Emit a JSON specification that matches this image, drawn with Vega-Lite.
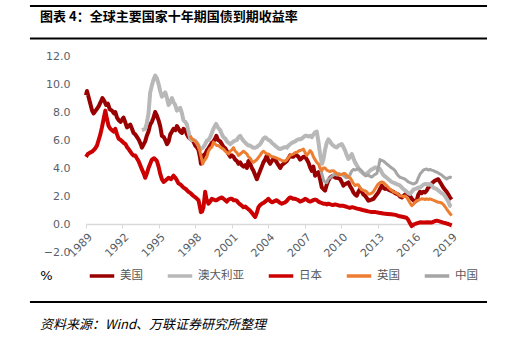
{
"$schema": "https://vega.github.io/schema/vega-lite/v6.json",
"width": 366, "height": 196,
"autosize": {"type": "none"},
"padding": {"left": 86, "top": 56, "right": 68, "bottom": 99},
"background": "white",
"config": {"view": {"stroke": null}, "font": "Noto Sans CJK SC"},
"resolve": {"axis": {"x": "independent", "y": "independent"}},
"datasets": {"rates": [
{"c":"美国","t":1989.0,"v":9.2},{"c":"美国","t":1989.08,"v":9.5},{"c":"美国","t":1989.2,"v":9.1},{"c":"美国","t":1989.35,"v":8.6},{"c":"美国","t":1989.5,"v":8.1},{"c":"美国","t":1989.62,"v":7.9},{"c":"美国","t":1989.8,"v":8.1},{"c":"美国","t":1990.04,"v":8.4},{"c":"美国","t":1990.2,"v":8.7},{"c":"美国","t":1990.35,"v":9.0},{"c":"美国","t":1990.5,"v":8.8},{"c":"美国","t":1990.65,"v":8.5},{"c":"美国","t":1990.8,"v":8.6},{"c":"美国","t":1990.95,"v":8.2},{"c":"美国","t":1991.14,"v":8.1},{"c":"美国","t":1991.3,"v":7.9},{"c":"美国","t":1991.41,"v":8.0},{"c":"美国","t":1991.55,"v":7.6},{"c":"美国","t":1991.7,"v":7.4},{"c":"美国","t":1991.85,"v":7.3},{"c":"美国","t":1992.0,"v":7.5},{"c":"美国","t":1992.09,"v":7.6},{"c":"美国","t":1992.25,"v":7.2},{"c":"美国","t":1992.37,"v":6.9},{"c":"美国","t":1992.5,"v":7.0},{"c":"美国","t":1992.64,"v":7.1},{"c":"美国","t":1992.78,"v":6.8},{"c":"美国","t":1992.91,"v":6.5},{"c":"美国","t":1993.05,"v":6.4},{"c":"美国","t":1993.2,"v":6.2},{"c":"美国","t":1993.35,"v":6.0},{"c":"美国","t":1993.5,"v":5.7},{"c":"美国","t":1993.6,"v":5.45},{"c":"美国","t":1993.75,"v":5.7},{"c":"美国","t":1993.87,"v":5.9},{"c":"美国","t":1994.0,"v":6.3},{"c":"美国","t":1994.14,"v":6.6},{"c":"美国","t":1994.28,"v":7.1},{"c":"美国","t":1994.42,"v":7.3},{"c":"美国","t":1994.55,"v":7.6},{"c":"美国","t":1994.69,"v":8.0},{"c":"美国","t":1994.8,"v":7.8},{"c":"美国","t":1994.97,"v":7.4},{"c":"美国","t":1995.1,"v":7.0},{"c":"美国","t":1995.24,"v":6.3},{"c":"美国","t":1995.4,"v":6.2},{"c":"美国","t":1995.52,"v":6.0},{"c":"美国","t":1995.66,"v":5.7},{"c":"美国","t":1995.8,"v":5.9},{"c":"美国","t":1995.93,"v":6.4},{"c":"美国","t":1996.07,"v":6.6},{"c":"美国","t":1996.2,"v":6.8},{"c":"美国","t":1996.35,"v":6.7},{"c":"美国","t":1996.48,"v":7.0},{"c":"美国","t":1996.61,"v":6.8},{"c":"美国","t":1996.75,"v":6.6},{"c":"美国","t":1996.89,"v":6.5},{"c":"美国","t":1997.02,"v":6.8},{"c":"美国","t":1997.16,"v":6.7},{"c":"美国","t":1997.3,"v":6.4},{"c":"美国","t":1997.43,"v":6.2},{"c":"美国","t":1997.57,"v":6.1},{"c":"美国","t":1997.7,"v":6.0},{"c":"美国","t":1997.84,"v":5.9},{"c":"美国","t":1997.98,"v":5.6},{"c":"美国","t":1998.1,"v":5.5},{"c":"美国","t":1998.25,"v":5.3},{"c":"美国","t":1998.39,"v":4.7},{"c":"美国","t":1998.45,"v":4.3},{"c":"美国","t":1998.55,"v":4.6},{"c":"美国","t":1998.66,"v":4.9},{"c":"美国","t":1998.8,"v":5.0},{"c":"美国","t":1998.94,"v":5.25},{"c":"美国","t":1999.07,"v":5.4},{"c":"美国","t":1999.21,"v":5.6},{"c":"美国","t":1999.35,"v":5.8},{"c":"美国","t":1999.48,"v":5.9},{"c":"美国","t":1999.62,"v":6.1},{"c":"美国","t":1999.72,"v":6.3},{"c":"美国","t":1999.85,"v":6.0},{"c":"美国","t":2000.04,"v":5.9},{"c":"美国","t":2000.18,"v":5.7},{"c":"美国","t":2000.31,"v":5.5},{"c":"美国","t":2000.45,"v":5.4},{"c":"美国","t":2000.59,"v":5.2},{"c":"美国","t":2000.72,"v":5.0},{"c":"美国","t":2000.86,"v":4.8},{"c":"美国","t":2001.0,"v":4.9},{"c":"美国","t":2001.13,"v":4.8},{"c":"美国","t":2001.27,"v":4.6},{"c":"美国","t":2001.41,"v":4.5},{"c":"美国","t":2001.54,"v":4.3},{"c":"美国","t":2001.68,"v":4.4},{"c":"美国","t":2001.82,"v":4.2},{"c":"美国","t":2001.95,"v":4.1},{"c":"美国","t":2002.1,"v":4.2},{"c":"美国","t":2002.23,"v":4.0},{"c":"美国","t":2002.36,"v":4.5},{"c":"美国","t":2002.5,"v":4.3},{"c":"美国","t":2002.64,"v":4.0},{"c":"美国","t":2002.77,"v":3.8},{"c":"美国","t":2002.91,"v":3.5},{"c":"美国","t":2003.05,"v":3.2},{"c":"美国","t":2003.18,"v":3.5},{"c":"美国","t":2003.32,"v":3.8},{"c":"美国","t":2003.46,"v":4.1},{"c":"美国","t":2003.59,"v":4.4},{"c":"美国","t":2003.73,"v":4.6},{"c":"美国","t":2003.87,"v":4.9},{"c":"美国","t":2004.0,"v":4.5},{"c":"美国","t":2004.14,"v":4.3},{"c":"美国","t":2004.28,"v":4.5},{"c":"美国","t":2004.42,"v":4.7},{"c":"美国","t":2004.55,"v":4.6},{"c":"美国","t":2004.69,"v":4.4},{"c":"美国","t":2004.83,"v":4.2},{"c":"美国","t":2004.97,"v":4.0},{"c":"美国","t":2005.1,"v":4.2},{"c":"美国","t":2005.24,"v":4.3},{"c":"美国","t":2005.38,"v":4.4},{"c":"美国","t":2005.52,"v":4.5},{"c":"美国","t":2005.65,"v":4.7},{"c":"美国","t":2005.79,"v":4.9},{"c":"美国","t":2005.93,"v":4.8},{"c":"美国","t":2006.06,"v":4.8},{"c":"美国","t":2006.2,"v":5.0},{"c":"美国","t":2006.34,"v":4.9},{"c":"美国","t":2006.47,"v":4.8},{"c":"美国","t":2006.61,"v":4.6},{"c":"美国","t":2006.75,"v":4.7},{"c":"美国","t":2006.88,"v":4.8},{"c":"美国","t":2007.02,"v":4.8},{"c":"美国","t":2007.16,"v":4.6},{"c":"美国","t":2007.29,"v":4.4},{"c":"美国","t":2007.43,"v":4.05},{"c":"美国","t":2007.57,"v":3.8},{"c":"美国","t":2007.7,"v":4.1},{"c":"美国","t":2007.84,"v":3.45},{"c":"美国","t":2007.98,"v":3.6},{"c":"美国","t":2008.11,"v":3.7},{"c":"美国","t":2008.25,"v":3.2},{"c":"美国","t":2008.39,"v":2.62},{"c":"美国","t":2008.52,"v":2.5},{"c":"美国","t":2008.66,"v":2.38},{"c":"美国","t":2008.8,"v":2.8},{"c":"美国","t":2008.93,"v":3.1},{"c":"美国","t":2009.07,"v":3.3},{"c":"美国","t":2009.21,"v":3.4},{"c":"美国","t":2009.35,"v":3.45},{"c":"美国","t":2009.5,"v":3.3},{"c":"美国","t":2009.65,"v":3.3},{"c":"美国","t":2009.8,"v":3.25},{"c":"美国","t":2009.9,"v":3.21},{"c":"美国","t":2010.03,"v":3.0},{"c":"美国","t":2010.17,"v":2.74},{"c":"美国","t":2010.31,"v":2.85},{"c":"美国","t":2010.45,"v":2.9},{"c":"美国","t":2010.58,"v":2.97},{"c":"美国","t":2010.72,"v":2.7},{"c":"美国","t":2010.86,"v":2.5},{"c":"美国","t":2010.99,"v":2.26},{"c":"美国","t":2011.13,"v":2.1},{"c":"美国","t":2011.27,"v":2.02},{"c":"美国","t":2011.4,"v":2.3},{"c":"美国","t":2011.54,"v":2.5},{"c":"美国","t":2011.68,"v":2.3},{"c":"美国","t":2011.82,"v":2.1},{"c":"美国","t":2011.95,"v":2.02},{"c":"美国","t":2012.09,"v":1.85},{"c":"美国","t":2012.22,"v":1.67},{"c":"美国","t":2012.36,"v":1.7},{"c":"美国","t":2012.5,"v":1.75},{"c":"美国","t":2012.63,"v":1.79},{"c":"美国","t":2012.77,"v":1.95},{"c":"美国","t":2012.91,"v":2.1},{"c":"美国","t":2013.04,"v":2.26},{"c":"美国","t":2013.18,"v":2.5},{"c":"美国","t":2013.32,"v":2.74},{"c":"美国","t":2013.45,"v":2.6},{"c":"美国","t":2013.59,"v":2.5},{"c":"美国","t":2013.73,"v":2.55},{"c":"美国","t":2013.87,"v":2.45},{"c":"美国","t":2014.0,"v":2.4},{"c":"美国","t":2014.14,"v":2.35},{"c":"美国","t":2014.28,"v":2.3},{"c":"美国","t":2014.42,"v":2.2},{"c":"美国","t":2014.55,"v":2.15},{"c":"美国","t":2014.69,"v":2.1},{"c":"美国","t":2014.83,"v":1.95},{"c":"美国","t":2014.97,"v":1.9},{"c":"美国","t":2015.1,"v":2.0},{"c":"美国","t":2015.24,"v":2.1},{"c":"美国","t":2015.38,"v":2.2},{"c":"美国","t":2015.52,"v":2.1},{"c":"美国","t":2015.65,"v":2.0},{"c":"美国","t":2015.79,"v":1.8},{"c":"美国","t":2015.92,"v":1.7},{"c":"美国","t":2016.06,"v":1.6},{"c":"美国","t":2016.2,"v":1.7},{"c":"美国","t":2016.33,"v":2.1},{"c":"美国","t":2016.47,"v":2.3},{"c":"美国","t":2016.6,"v":2.2},{"c":"美国","t":2016.74,"v":2.3},{"c":"美国","t":2016.88,"v":2.25},{"c":"美国","t":2017.02,"v":2.4},{"c":"美国","t":2017.15,"v":2.6},{"c":"美国","t":2017.29,"v":2.7},{"c":"美国","t":2017.43,"v":2.9},{"c":"美国","t":2017.56,"v":3.0},{"c":"美国","t":2017.7,"v":3.1},{"c":"美国","t":2017.84,"v":3.15},{"c":"美国","t":2017.97,"v":3.2},{"c":"美国","t":2018.11,"v":3.0},{"c":"美国","t":2018.25,"v":2.8},{"c":"美国","t":2018.38,"v":2.6},{"c":"美国","t":2018.52,"v":2.45},{"c":"美国","t":2018.66,"v":2.3},{"c":"美国","t":2018.8,"v":2.1},{"c":"美国","t":2018.93,"v":1.9},{"c":"美国","t":2019.07,"v":1.75},
{"c":"澳大利亚","t":1993.6,"v":6.7},{"c":"澳大利亚","t":1993.75,"v":6.75},{"c":"澳大利亚","t":1993.87,"v":6.8},{"c":"澳大利亚","t":1994.0,"v":7.2},{"c":"澳大利亚","t":1994.14,"v":7.9},{"c":"澳大利亚","t":1994.28,"v":9.4},{"c":"澳大利亚","t":1994.42,"v":9.9},{"c":"澳大利亚","t":1994.55,"v":10.3},{"c":"澳大利亚","t":1994.69,"v":10.6},{"c":"澳大利亚","t":1994.83,"v":10.4},{"c":"澳大利亚","t":1994.97,"v":10.0},{"c":"澳大利亚","t":1995.1,"v":9.5},{"c":"澳大利亚","t":1995.24,"v":9.1},{"c":"澳大利亚","t":1995.38,"v":9.2},{"c":"澳大利亚","t":1995.52,"v":9.4},{"c":"澳大利亚","t":1995.66,"v":9.0},{"c":"澳大利亚","t":1995.79,"v":8.5},{"c":"澳大利亚","t":1995.93,"v":8.7},{"c":"澳大利亚","t":1996.07,"v":9.0},{"c":"澳大利亚","t":1996.2,"v":8.7},{"c":"澳大利亚","t":1996.34,"v":8.5},{"c":"澳大利亚","t":1996.48,"v":8.1},{"c":"澳大利亚","t":1996.61,"v":8.2},{"c":"澳大利亚","t":1996.75,"v":8.3},{"c":"澳大利亚","t":1996.89,"v":7.9},{"c":"澳大利亚","t":1997.02,"v":7.4},{"c":"澳大利亚","t":1997.16,"v":7.3},{"c":"澳大利亚","t":1997.3,"v":7.1},{"c":"澳大利亚","t":1997.43,"v":6.6},{"c":"澳大利亚","t":1997.57,"v":6.1},{"c":"澳大利亚","t":1997.7,"v":6.0},{"c":"澳大利亚","t":1997.84,"v":6.0},{"c":"澳大利亚","t":1997.98,"v":5.95},{"c":"澳大利亚","t":1998.12,"v":5.8},{"c":"澳大利亚","t":1998.25,"v":5.6},{"c":"澳大利亚","t":1998.39,"v":5.3},{"c":"澳大利亚","t":1998.52,"v":5.4},{"c":"澳大利亚","t":1998.66,"v":5.5},{"c":"澳大利亚","t":1998.8,"v":5.7},{"c":"澳大利亚","t":1998.94,"v":5.95},{"c":"澳大利亚","t":1999.07,"v":6.0},{"c":"澳大利亚","t":1999.21,"v":6.2},{"c":"澳大利亚","t":1999.35,"v":6.5},{"c":"澳大利亚","t":1999.48,"v":6.8},{"c":"澳大利亚","t":1999.6,"v":7.0},{"c":"澳大利亚","t":1999.7,"v":7.15},{"c":"澳大利亚","t":1999.85,"v":6.9},{"c":"澳大利亚","t":2000.04,"v":6.7},{"c":"澳大利亚","t":2000.18,"v":6.4},{"c":"澳大利亚","t":2000.31,"v":6.2},{"c":"澳大利亚","t":2000.45,"v":6.1},{"c":"澳大利亚","t":2000.59,"v":5.9},{"c":"澳大利亚","t":2000.72,"v":5.8},{"c":"澳大利亚","t":2000.86,"v":5.7},{"c":"澳大利亚","t":2001.0,"v":5.8},{"c":"澳大利亚","t":2001.13,"v":5.9},{"c":"澳大利亚","t":2001.27,"v":5.95},{"c":"澳大利亚","t":2001.41,"v":6.0},{"c":"澳大利亚","t":2001.54,"v":6.2},{"c":"澳大利亚","t":2001.68,"v":6.3},{"c":"澳大利亚","t":2001.82,"v":6.1},{"c":"澳大利亚","t":2001.95,"v":5.95},{"c":"澳大利亚","t":2002.1,"v":5.8},{"c":"澳大利亚","t":2002.23,"v":5.7},{"c":"澳大利亚","t":2002.36,"v":5.6},{"c":"澳大利亚","t":2002.5,"v":5.6},{"c":"澳大利亚","t":2002.64,"v":5.5},{"c":"澳大利亚","t":2002.77,"v":5.45},{"c":"澳大利亚","t":2002.91,"v":5.45},{"c":"澳大利亚","t":2003.05,"v":5.5},{"c":"澳大利亚","t":2003.18,"v":5.6},{"c":"澳大利亚","t":2003.32,"v":5.7},{"c":"澳大利亚","t":2003.46,"v":5.9},{"c":"澳大利亚","t":2003.59,"v":6.1},{"c":"澳大利亚","t":2003.73,"v":6.2},{"c":"澳大利亚","t":2003.87,"v":6.1},{"c":"澳大利亚","t":2004.0,"v":6.0},{"c":"澳大利亚","t":2004.14,"v":5.95},{"c":"澳大利亚","t":2004.28,"v":5.8},{"c":"澳大利亚","t":2004.42,"v":5.7},{"c":"澳大利亚","t":2004.55,"v":5.6},{"c":"澳大利亚","t":2004.69,"v":5.5},{"c":"澳大利亚","t":2004.83,"v":5.4},{"c":"澳大利亚","t":2004.97,"v":5.35},{"c":"澳大利亚","t":2005.1,"v":5.4},{"c":"澳大利亚","t":2005.24,"v":5.45},{"c":"澳大利亚","t":2005.38,"v":5.5},{"c":"澳大利亚","t":2005.52,"v":5.45},{"c":"澳大利亚","t":2005.65,"v":5.6},{"c":"澳大利亚","t":2005.79,"v":5.7},{"c":"澳大利亚","t":2005.93,"v":5.8},{"c":"澳大利亚","t":2006.06,"v":5.85},{"c":"澳大利亚","t":2006.2,"v":5.9},{"c":"澳大利亚","t":2006.34,"v":6.0},{"c":"澳大利亚","t":2006.47,"v":6.05},{"c":"澳大利亚","t":2006.61,"v":6.05},{"c":"澳大利亚","t":2006.75,"v":6.1},{"c":"澳大利亚","t":2006.88,"v":6.2},{"c":"澳大利亚","t":2007.02,"v":6.3},{"c":"澳大利亚","t":2007.16,"v":6.3},{"c":"澳大利亚","t":2007.29,"v":6.25},{"c":"澳大利亚","t":2007.43,"v":6.3},{"c":"澳大利亚","t":2007.57,"v":6.2},{"c":"澳大利亚","t":2007.7,"v":6.4},{"c":"澳大利亚","t":2007.84,"v":6.55},{"c":"澳大利亚","t":2007.98,"v":6.6},{"c":"澳大利亚","t":2008.11,"v":5.9},{"c":"澳大利亚","t":2008.25,"v":5.0},{"c":"澳大利亚","t":2008.4,"v":4.3},{"c":"澳大利亚","t":2008.52,"v":4.6},{"c":"澳大利亚","t":2008.66,"v":5.3},{"c":"澳大利亚","t":2008.8,"v":5.8},{"c":"澳大利亚","t":2008.93,"v":6.05},{"c":"澳大利亚","t":2009.07,"v":5.9},{"c":"澳大利亚","t":2009.21,"v":5.7},{"c":"澳大利亚","t":2009.35,"v":5.6},{"c":"澳大利亚","t":2009.5,"v":5.5},{"c":"澳大利亚","t":2009.62,"v":5.47},{"c":"澳大利亚","t":2009.76,"v":5.6},{"c":"澳大利亚","t":2009.9,"v":5.65},{"c":"澳大利亚","t":2010.03,"v":5.71},{"c":"澳大利亚","t":2010.17,"v":5.5},{"c":"澳大利亚","t":2010.31,"v":5.24},{"c":"澳大利亚","t":2010.45,"v":4.9},{"c":"澳大利亚","t":2010.58,"v":4.64},{"c":"澳大利亚","t":2010.72,"v":4.8},{"c":"澳大利亚","t":2010.86,"v":5.0},{"c":"澳大利亚","t":2010.99,"v":4.7},{"c":"澳大利亚","t":2011.13,"v":4.4},{"c":"澳大利亚","t":2011.27,"v":4.2},{"c":"澳大利亚","t":2011.4,"v":4.0},{"c":"澳大利亚","t":2011.54,"v":3.81},{"c":"澳大利亚","t":2011.68,"v":3.7},{"c":"澳大利亚","t":2011.82,"v":3.6},{"c":"澳大利亚","t":2011.95,"v":3.57},{"c":"澳大利亚","t":2012.09,"v":3.6},{"c":"澳大利亚","t":2012.22,"v":3.7},{"c":"澳大利亚","t":2012.36,"v":3.81},{"c":"澳大利亚","t":2012.5,"v":3.9},{"c":"澳大利亚","t":2012.63,"v":3.95},{"c":"澳大利亚","t":2012.77,"v":4.04},{"c":"澳大利亚","t":2012.91,"v":4.0},{"c":"澳大利亚","t":2013.04,"v":3.95},{"c":"澳大利亚","t":2013.18,"v":3.93},{"c":"澳大利亚","t":2013.32,"v":3.7},{"c":"澳大利亚","t":2013.45,"v":3.5},{"c":"澳大利亚","t":2013.59,"v":3.4},{"c":"澳大利亚","t":2013.73,"v":3.3},{"c":"澳大利亚","t":2013.87,"v":3.2},{"c":"澳大利亚","t":2014.0,"v":3.1},{"c":"澳大利亚","t":2014.14,"v":3.0},{"c":"澳大利亚","t":2014.28,"v":2.95},{"c":"澳大利亚","t":2014.42,"v":2.9},{"c":"澳大利亚","t":2014.55,"v":2.85},{"c":"澳大利亚","t":2014.69,"v":2.8},{"c":"澳大利亚","t":2014.83,"v":2.74},{"c":"澳大利亚","t":2014.97,"v":2.6},{"c":"澳大利亚","t":2015.1,"v":2.5},{"c":"澳大利亚","t":2015.24,"v":2.4},{"c":"澳大利亚","t":2015.38,"v":2.3},{"c":"澳大利亚","t":2015.52,"v":2.2},{"c":"澳大利亚","t":2015.65,"v":2.14},{"c":"澳大利亚","t":2015.79,"v":2.3},{"c":"澳大利亚","t":2015.92,"v":2.45},{"c":"澳大利亚","t":2016.06,"v":2.5},{"c":"澳大利亚","t":2016.2,"v":2.55},{"c":"澳大利亚","t":2016.33,"v":2.6},{"c":"澳大利亚","t":2016.47,"v":2.6},{"c":"澳大利亚","t":2016.6,"v":2.7},{"c":"澳大利亚","t":2016.74,"v":2.8},{"c":"澳大利亚","t":2016.88,"v":2.86},{"c":"澳大利亚","t":2017.02,"v":2.86},{"c":"澳大利亚","t":2017.15,"v":2.8},{"c":"澳大利亚","t":2017.29,"v":2.86},{"c":"澳大利亚","t":2017.43,"v":2.75},{"c":"澳大利亚","t":2017.56,"v":2.6},{"c":"澳大利亚","t":2017.7,"v":2.55},{"c":"澳大利亚","t":2017.84,"v":2.5},{"c":"澳大利亚","t":2017.97,"v":2.4},{"c":"澳大利亚","t":2018.11,"v":2.3},{"c":"澳大利亚","t":2018.25,"v":2.2},{"c":"澳大利亚","t":2018.38,"v":2.14},{"c":"澳大利亚","t":2018.52,"v":2.0},{"c":"澳大利亚","t":2018.66,"v":1.8},{"c":"澳大利亚","t":2018.8,"v":1.6},{"c":"澳大利亚","t":2018.93,"v":1.31},{"c":"澳大利亚","t":2019.07,"v":1.25},
{"c":"日本","t":1989.0,"v":4.8},{"c":"日本","t":1989.15,"v":5.0},{"c":"日本","t":1989.35,"v":5.1},{"c":"日本","t":1989.55,"v":5.2},{"c":"日本","t":1989.76,"v":5.4},{"c":"日本","t":1989.9,"v":5.6},{"c":"日本","t":1990.04,"v":6.0},{"c":"日本","t":1990.18,"v":6.4},{"c":"日本","t":1990.31,"v":6.9},{"c":"日本","t":1990.45,"v":7.5},{"c":"日本","t":1990.59,"v":8.1},{"c":"日本","t":1990.72,"v":7.5},{"c":"日本","t":1990.86,"v":7.0},{"c":"日本","t":1991.0,"v":6.8},{"c":"日本","t":1991.14,"v":6.7},{"c":"日本","t":1991.27,"v":6.6},{"c":"日本","t":1991.41,"v":6.8},{"c":"日本","t":1991.55,"v":6.4},{"c":"日本","t":1991.68,"v":6.1},{"c":"日本","t":1991.85,"v":6.0},{"c":"日本","t":1992.09,"v":5.8},{"c":"日本","t":1992.25,"v":5.7},{"c":"日本","t":1992.37,"v":5.5},{"c":"日本","t":1992.55,"v":5.3},{"c":"日本","t":1992.78,"v":5.0},{"c":"日本","t":1992.91,"v":4.9},{"c":"日本","t":1993.05,"v":4.9},{"c":"日本","t":1993.18,"v":4.7},{"c":"日本","t":1993.32,"v":4.5},{"c":"日本","t":1993.46,"v":4.2},{"c":"日本","t":1993.6,"v":3.9},{"c":"日本","t":1993.75,"v":3.6},{"c":"日本","t":1993.87,"v":3.3},{"c":"日本","t":1994.0,"v":3.6},{"c":"日本","t":1994.14,"v":4.0},{"c":"日本","t":1994.28,"v":4.3},{"c":"日本","t":1994.42,"v":4.6},{"c":"日本","t":1994.6,"v":4.7},{"c":"日本","t":1994.83,"v":4.5},{"c":"日本","t":1994.97,"v":4.1},{"c":"日本","t":1995.1,"v":3.6},{"c":"日本","t":1995.24,"v":3.2},{"c":"日本","t":1995.38,"v":3.0},{"c":"日本","t":1995.52,"v":3.1},{"c":"日本","t":1995.66,"v":3.2},{"c":"日本","t":1995.79,"v":3.3},{"c":"日本","t":1996.0,"v":3.2},{"c":"日本","t":1996.2,"v":3.45},{"c":"日本","t":1996.35,"v":3.3},{"c":"日本","t":1996.48,"v":3.1},{"c":"日本","t":1996.61,"v":2.9},{"c":"日本","t":1996.8,"v":2.8},{"c":"日本","t":1997.02,"v":2.6},{"c":"日本","t":1997.2,"v":2.5},{"c":"日本","t":1997.43,"v":2.3},{"c":"日本","t":1997.6,"v":2.2},{"c":"日本","t":1997.84,"v":2.0},{"c":"日本","t":1998.0,"v":1.9},{"c":"日本","t":1998.25,"v":1.7},{"c":"日本","t":1998.35,"v":1.3},{"c":"日本","t":1998.45,"v":0.85},{"c":"日本","t":1998.55,"v":0.9},{"c":"日本","t":1998.66,"v":1.2},{"c":"日本","t":1998.75,"v":1.9},{"c":"日本","t":1998.8,"v":2.3},{"c":"日本","t":1998.9,"v":1.8},{"c":"日本","t":1999.07,"v":1.45},{"c":"日本","t":1999.21,"v":1.6},{"c":"日本","t":1999.35,"v":1.8},{"c":"日本","t":1999.5,"v":1.75},{"c":"日本","t":1999.62,"v":1.7},{"c":"日本","t":1999.76,"v":1.7},{"c":"日本","t":1999.9,"v":1.8},{"c":"日本","t":2000.04,"v":1.85},{"c":"日本","t":2000.18,"v":1.9},{"c":"日本","t":2000.31,"v":1.8},{"c":"日本","t":2000.45,"v":1.7},{"c":"日本","t":2000.59,"v":1.6},{"c":"日本","t":2000.72,"v":1.75},{"c":"日本","t":2000.86,"v":1.8},{"c":"日本","t":2001.0,"v":1.8},{"c":"日本","t":2001.13,"v":1.7},{"c":"日本","t":2001.27,"v":1.7},{"c":"日本","t":2001.41,"v":1.65},{"c":"日本","t":2001.54,"v":1.5},{"c":"日本","t":2001.68,"v":1.4},{"c":"日本","t":2001.82,"v":1.3},{"c":"日本","t":2001.95,"v":1.2},{"c":"日本","t":2002.1,"v":1.25},{"c":"日本","t":2002.23,"v":1.15},{"c":"日本","t":2002.36,"v":1.05},{"c":"日本","t":2002.5,"v":0.95},{"c":"日本","t":2002.64,"v":0.8},{"c":"日本","t":2002.77,"v":0.65},{"c":"日本","t":2002.91,"v":0.5},{"c":"日本","t":2003.05,"v":0.8},{"c":"日本","t":2003.18,"v":1.2},{"c":"日本","t":2003.32,"v":1.35},{"c":"日本","t":2003.46,"v":1.45},{"c":"日本","t":2003.59,"v":1.5},{"c":"日本","t":2003.73,"v":1.6},{"c":"日本","t":2003.87,"v":1.7},{"c":"日本","t":2004.0,"v":1.8},{"c":"日本","t":2004.14,"v":1.65},{"c":"日本","t":2004.28,"v":1.55},{"c":"日本","t":2004.42,"v":1.6},{"c":"日本","t":2004.55,"v":1.65},{"c":"日本","t":2004.69,"v":1.7},{"c":"日本","t":2004.83,"v":1.6},{"c":"日本","t":2004.97,"v":1.5},{"c":"日本","t":2005.1,"v":1.45},{"c":"日本","t":2005.24,"v":1.5},{"c":"日本","t":2005.38,"v":1.55},{"c":"日本","t":2005.52,"v":1.65},{"c":"日本","t":2005.65,"v":1.8},{"c":"日本","t":2005.79,"v":1.9},{"c":"日本","t":2005.93,"v":1.85},{"c":"日本","t":2006.06,"v":1.8},{"c":"日本","t":2006.2,"v":1.8},{"c":"日本","t":2006.34,"v":1.75},{"c":"日本","t":2006.47,"v":1.7},{"c":"日本","t":2006.61,"v":1.6},{"c":"日本","t":2006.75,"v":1.65},{"c":"日本","t":2006.88,"v":1.7},{"c":"日本","t":2007.02,"v":1.8},{"c":"日本","t":2007.16,"v":1.75},{"c":"日本","t":2007.29,"v":1.65},{"c":"日本","t":2007.43,"v":1.6},{"c":"日本","t":2007.57,"v":1.65},{"c":"日本","t":2007.7,"v":1.7},{"c":"日本","t":2007.84,"v":1.75},{"c":"日本","t":2007.98,"v":1.7},{"c":"日本","t":2008.11,"v":1.6},{"c":"日本","t":2008.25,"v":1.55},{"c":"日本","t":2008.39,"v":1.5},{"c":"日本","t":2008.52,"v":1.45},{"c":"日本","t":2008.66,"v":1.45},{"c":"日本","t":2008.8,"v":1.4},{"c":"日本","t":2008.93,"v":1.45},{"c":"日本","t":2009.1,"v":1.4},{"c":"日本","t":2009.3,"v":1.35},{"c":"日本","t":2009.5,"v":1.4},{"c":"日本","t":2009.7,"v":1.35},{"c":"日本","t":2009.9,"v":1.3},{"c":"日本","t":2010.17,"v":1.3},{"c":"日本","t":2010.35,"v":1.25},{"c":"日本","t":2010.5,"v":1.2},{"c":"日本","t":2010.7,"v":1.15},{"c":"日本","t":2010.9,"v":1.2},{"c":"日本","t":2011.1,"v":1.15},{"c":"日本","t":2011.3,"v":1.1},{"c":"日本","t":2011.54,"v":1.05},{"c":"日本","t":2011.75,"v":1.0},{"c":"日本","t":2012.0,"v":0.95},{"c":"日本","t":2012.22,"v":0.9},{"c":"日本","t":2012.5,"v":0.85},{"c":"日本","t":2012.8,"v":0.85},{"c":"日本","t":2013.1,"v":0.8},{"c":"日本","t":2013.45,"v":0.75},{"c":"日本","t":2013.8,"v":0.72},{"c":"日本","t":2014.1,"v":0.7},{"c":"日本","t":2014.45,"v":0.65},{"c":"日本","t":2014.8,"v":0.55},{"c":"日本","t":2015.1,"v":0.5},{"c":"日本","t":2015.35,"v":0.45},{"c":"日本","t":2015.5,"v":0.3},{"c":"日本","t":2015.65,"v":0.05},{"c":"日本","t":2015.79,"v":-0.15},{"c":"日本","t":2015.92,"v":-0.05},{"c":"日本","t":2016.06,"v":0.0},{"c":"日本","t":2016.2,"v":0.05},{"c":"日本","t":2016.47,"v":0.12},{"c":"日本","t":2016.8,"v":0.1},{"c":"日本","t":2017.1,"v":0.12},{"c":"日本","t":2017.4,"v":0.1},{"c":"日本","t":2017.7,"v":0.2},{"c":"日本","t":2017.84,"v":0.24},{"c":"日本","t":2018.0,"v":0.2},{"c":"日本","t":2018.2,"v":0.15},{"c":"日本","t":2018.38,"v":0.1},{"c":"日本","t":2018.6,"v":0.05},{"c":"日本","t":2018.8,"v":0.0},{"c":"日本","t":2019.07,"v":-0.1},
{"c":"中国","t":2008.2,"v":4.1},{"c":"中国","t":2008.3,"v":3.9},{"c":"中国","t":2008.42,"v":3.5},{"c":"中国","t":2008.55,"v":3.1},{"c":"中国","t":2008.66,"v":3.0},{"c":"中国","t":2008.8,"v":2.95},{"c":"中国","t":2008.93,"v":3.2},{"c":"中国","t":2009.07,"v":3.3},{"c":"中国","t":2009.21,"v":3.4},{"c":"中国","t":2009.35,"v":3.5},{"c":"中国","t":2009.5,"v":3.55},{"c":"中国","t":2009.65,"v":3.5},{"c":"中国","t":2009.8,"v":3.6},{"c":"中国","t":2009.95,"v":3.55},{"c":"中国","t":2010.1,"v":3.5},{"c":"中国","t":2010.25,"v":3.4},{"c":"中国","t":2010.4,"v":3.3},{"c":"中国","t":2010.55,"v":3.35},{"c":"中国","t":2010.7,"v":3.5},{"c":"中国","t":2010.86,"v":3.8},{"c":"中国","t":2011.0,"v":3.9},{"c":"中国","t":2011.13,"v":3.85},{"c":"中国","t":2011.27,"v":3.9},{"c":"中国","t":2011.4,"v":3.95},{"c":"中国","t":2011.54,"v":3.9},{"c":"中国","t":2011.68,"v":3.8},{"c":"中国","t":2011.82,"v":3.6},{"c":"中国","t":2011.95,"v":3.45},{"c":"中国","t":2012.09,"v":3.45},{"c":"中国","t":2012.22,"v":3.5},{"c":"中国","t":2012.36,"v":3.4},{"c":"中国","t":2012.5,"v":3.35},{"c":"中国","t":2012.63,"v":3.45},{"c":"中国","t":2012.77,"v":3.55},{"c":"中国","t":2012.91,"v":3.6},{"c":"中国","t":2013.04,"v":4.0},{"c":"中国","t":2013.18,"v":4.6},{"c":"中国","t":2013.32,"v":4.55},{"c":"中国","t":2013.45,"v":4.5},{"c":"中国","t":2013.59,"v":4.4},{"c":"中国","t":2013.73,"v":4.29},{"c":"中国","t":2013.87,"v":4.2},{"c":"中国","t":2014.0,"v":4.1},{"c":"中国","t":2014.14,"v":4.0},{"c":"中国","t":2014.28,"v":3.93},{"c":"中国","t":2014.42,"v":3.8},{"c":"中国","t":2014.55,"v":3.6},{"c":"中国","t":2014.69,"v":3.45},{"c":"中国","t":2014.83,"v":3.33},{"c":"中国","t":2014.97,"v":3.3},{"c":"中国","t":2015.1,"v":3.25},{"c":"中国","t":2015.24,"v":3.2},{"c":"中国","t":2015.38,"v":3.1},{"c":"中国","t":2015.52,"v":3.0},{"c":"中国","t":2015.65,"v":2.95},{"c":"中国","t":2015.79,"v":2.9},{"c":"中国","t":2015.92,"v":2.86},{"c":"中国","t":2016.06,"v":2.9},{"c":"中国","t":2016.2,"v":3.0},{"c":"中国","t":2016.33,"v":3.3},{"c":"中国","t":2016.47,"v":3.57},{"c":"中国","t":2016.6,"v":3.7},{"c":"中国","t":2016.74,"v":3.85},{"c":"中国","t":2016.88,"v":3.9},{"c":"中国","t":2017.02,"v":3.93},{"c":"中国","t":2017.15,"v":3.85},{"c":"中国","t":2017.29,"v":3.9},{"c":"中国","t":2017.43,"v":3.85},{"c":"中国","t":2017.56,"v":3.81},{"c":"中国","t":2017.7,"v":3.75},{"c":"中国","t":2017.84,"v":3.7},{"c":"中国","t":2017.97,"v":3.65},{"c":"中国","t":2018.11,"v":3.57},{"c":"中国","t":2018.25,"v":3.5},{"c":"中国","t":2018.38,"v":3.4},{"c":"中国","t":2018.52,"v":3.3},{"c":"中国","t":2018.66,"v":3.21},{"c":"中国","t":2018.8,"v":3.3},{"c":"中国","t":2018.93,"v":3.35},{"c":"中国","t":2019.07,"v":3.3},
{"c":"英国","t":1997.57,"v":6.3},{"c":"英国","t":1997.7,"v":6.1},{"c":"英国","t":1997.84,"v":6.0},{"c":"英国","t":1997.98,"v":5.9},{"c":"英国","t":1998.1,"v":5.8},{"c":"英国","t":1998.25,"v":5.6},{"c":"英国","t":1998.39,"v":5.1},{"c":"英国","t":1998.52,"v":4.6},{"c":"英国","t":1998.6,"v":4.3},{"c":"英国","t":1998.7,"v":4.5},{"c":"英国","t":1998.8,"v":4.6},{"c":"英国","t":1998.94,"v":4.8},{"c":"英国","t":1999.07,"v":5.2},{"c":"英国","t":1999.21,"v":5.4},{"c":"英国","t":1999.35,"v":5.5},{"c":"英国","t":1999.48,"v":5.85},{"c":"英国","t":1999.62,"v":5.7},{"c":"英国","t":1999.76,"v":5.6},{"c":"英国","t":1999.9,"v":5.6},{"c":"英国","t":2000.04,"v":5.5},{"c":"英国","t":2000.18,"v":5.4},{"c":"英国","t":2000.31,"v":5.35},{"c":"英国","t":2000.45,"v":5.2},{"c":"英国","t":2000.59,"v":5.1},{"c":"英国","t":2000.72,"v":5.0},{"c":"英国","t":2000.86,"v":5.2},{"c":"英国","t":2001.0,"v":5.3},{"c":"英国","t":2001.13,"v":5.45},{"c":"英国","t":2001.27,"v":5.2},{"c":"英国","t":2001.41,"v":5.1},{"c":"英国","t":2001.54,"v":4.9},{"c":"英国","t":2001.68,"v":5.0},{"c":"英国","t":2001.82,"v":5.1},{"c":"英国","t":2001.95,"v":5.2},{"c":"英国","t":2002.1,"v":5.1},{"c":"英国","t":2002.23,"v":5.0},{"c":"英国","t":2002.36,"v":4.8},{"c":"英国","t":2002.5,"v":4.7},{"c":"英国","t":2002.64,"v":4.5},{"c":"英国","t":2002.77,"v":4.4},{"c":"英国","t":2002.91,"v":4.5},{"c":"英国","t":2003.05,"v":4.6},{"c":"英国","t":2003.18,"v":4.75},{"c":"英国","t":2003.32,"v":4.9},{"c":"英国","t":2003.46,"v":5.1},{"c":"英国","t":2003.59,"v":5.2},{"c":"英国","t":2003.73,"v":5.1},{"c":"英国","t":2003.87,"v":5.0},{"c":"英国","t":2004.0,"v":5.0},{"c":"英国","t":2004.14,"v":4.9},{"c":"英国","t":2004.28,"v":4.8},{"c":"英国","t":2004.42,"v":4.8},{"c":"英国","t":2004.55,"v":4.75},{"c":"英国","t":2004.69,"v":4.7},{"c":"英国","t":2004.83,"v":4.65},{"c":"英国","t":2004.97,"v":4.6},{"c":"英国","t":2005.1,"v":4.55},{"c":"英国","t":2005.24,"v":4.5},{"c":"英国","t":2005.38,"v":4.5},{"c":"英国","t":2005.52,"v":4.6},{"c":"英国","t":2005.65,"v":4.75},{"c":"英国","t":2005.79,"v":4.9},{"c":"英国","t":2005.93,"v":4.95},{"c":"英国","t":2006.06,"v":5.0},{"c":"英国","t":2006.2,"v":5.1},{"c":"英国","t":2006.34,"v":5.1},{"c":"英国","t":2006.47,"v":5.2},{"c":"英国","t":2006.61,"v":5.25},{"c":"英国","t":2006.75,"v":5.3},{"c":"英国","t":2006.88,"v":5.35},{"c":"英国","t":2007.02,"v":5.1},{"c":"英国","t":2007.16,"v":4.9},{"c":"英国","t":2007.29,"v":5.05},{"c":"英国","t":2007.43,"v":5.25},{"c":"英国","t":2007.57,"v":5.1},{"c":"英国","t":2007.7,"v":4.8},{"c":"英国","t":2007.84,"v":4.6},{"c":"英国","t":2007.98,"v":4.4},{"c":"英国","t":2008.11,"v":4.3},{"c":"英国","t":2008.25,"v":4.0},{"c":"英国","t":2008.39,"v":3.8},{"c":"英国","t":2008.52,"v":4.0},{"c":"英国","t":2008.66,"v":4.0},{"c":"英国","t":2008.8,"v":3.85},{"c":"英国","t":2008.93,"v":3.8},{"c":"英国","t":2009.07,"v":3.75},{"c":"英国","t":2009.21,"v":3.8},{"c":"英国","t":2009.35,"v":3.8},{"c":"英国","t":2009.5,"v":3.7},{"c":"英国","t":2009.65,"v":3.6},{"c":"英国","t":2009.76,"v":3.55},{"c":"英国","t":2009.9,"v":3.5},{"c":"英国","t":2010.03,"v":3.55},{"c":"英国","t":2010.17,"v":3.6},{"c":"英国","t":2010.31,"v":3.6},{"c":"英国","t":2010.45,"v":3.45},{"c":"英国","t":2010.58,"v":3.35},{"c":"英国","t":2010.72,"v":3.3},{"c":"英国","t":2010.86,"v":3.1},{"c":"英国","t":2010.99,"v":2.9},{"c":"英国","t":2011.13,"v":2.75},{"c":"英国","t":2011.27,"v":2.8},{"c":"英国","t":2011.4,"v":2.8},{"c":"英国","t":2011.54,"v":2.6},{"c":"英国","t":2011.68,"v":2.45},{"c":"英国","t":2011.82,"v":2.4},{"c":"英国","t":2011.95,"v":2.38},{"c":"英国","t":2012.09,"v":2.3},{"c":"英国","t":2012.22,"v":2.14},{"c":"英国","t":2012.36,"v":2.15},{"c":"英国","t":2012.5,"v":2.2},{"c":"英国","t":2012.63,"v":2.3},{"c":"英国","t":2012.77,"v":2.5},{"c":"英国","t":2012.91,"v":2.7},{"c":"英国","t":2013.04,"v":2.86},{"c":"英国","t":2013.18,"v":2.95},{"c":"英国","t":2013.32,"v":3.0},{"c":"英国","t":2013.45,"v":2.97},{"c":"英国","t":2013.59,"v":2.85},{"c":"英国","t":2013.73,"v":2.74},{"c":"英国","t":2013.87,"v":2.6},{"c":"英国","t":2014.0,"v":2.5},{"c":"英国","t":2014.14,"v":2.4},{"c":"英国","t":2014.28,"v":2.3},{"c":"英国","t":2014.42,"v":2.26},{"c":"英国","t":2014.55,"v":2.2},{"c":"英国","t":2014.69,"v":2.1},{"c":"英国","t":2014.83,"v":2.02},{"c":"英国","t":2014.97,"v":2.0},{"c":"英国","t":2015.1,"v":1.95},{"c":"英国","t":2015.24,"v":2.0},{"c":"英国","t":2015.38,"v":1.9},{"c":"英国","t":2015.52,"v":1.7},{"c":"英国","t":2015.65,"v":1.5},{"c":"英国","t":2015.79,"v":1.31},{"c":"英国","t":2015.92,"v":1.4},{"c":"英国","t":2016.06,"v":1.55},{"c":"英国","t":2016.2,"v":1.67},{"c":"英国","t":2016.33,"v":1.7},{"c":"英国","t":2016.47,"v":1.75},{"c":"英国","t":2016.6,"v":1.8},{"c":"英国","t":2016.74,"v":1.79},{"c":"英国","t":2016.88,"v":1.75},{"c":"英国","t":2017.02,"v":1.8},{"c":"英国","t":2017.15,"v":1.75},{"c":"英国","t":2017.29,"v":1.79},{"c":"英国","t":2017.43,"v":1.75},{"c":"英国","t":2017.56,"v":1.7},{"c":"英国","t":2017.7,"v":1.65},{"c":"英国","t":2017.84,"v":1.6},{"c":"英国","t":2017.97,"v":1.55},{"c":"英国","t":2018.11,"v":1.55},{"c":"英国","t":2018.25,"v":1.5},{"c":"英国","t":2018.38,"v":1.4},{"c":"英国","t":2018.52,"v":1.25},{"c":"英国","t":2018.66,"v":1.07},{"c":"英国","t":2018.8,"v":0.9},{"c":"英国","t":2018.93,"v":0.75},{"c":"英国","t":2019.07,"v":0.6}
]},
"layer": [
  {
    "data": {"name": "rates"},
    "encoding": {
      "x": {"field": "t", "type": "quantitative", "scale": {"domain": [1989, 2019.1], "nice": false, "zero": false},
        "axis": {"values": [1989,1992,1995,1998,2001,2004,2007,2010,2013,2016,2019], "format": "d", "labelAngle": -45, "offset": -28, "title": null, "grid": false, "domainColor": "#d9d9d9", "domainWidth": 1.5, "tickColor": "#d9d9d9", "tickSize": 4, "labelFontSize": 11, "labelColor": "#595f68", "labelFont": "DejaVu Sans", "labelPadding": 3}},
      "y": {"field": "v", "type": "quantitative", "scale": {"domain": [-2, 12], "nice": false, "zero": false},
        "axis": {"values": [-2,0,2,4,6,8,10,12], "format": ".1f", "grid": false, "domain": false, "ticks": false, "labelPadding": 16, "labelFontSize": 11, "labelColor": "#595f68", "labelFont": "DejaVu Sans", "title": "%", "titleAngle": 0, "titleX": -40, "titleY": 219, "titleAlign": "center", "titleBaseline": "middle", "titleFontSize": 13, "titleFontWeight": "normal", "titleColor": "#000000", "titleFont": "DejaVu Sans"}},
      "color": {"field": "c", "type": "nominal", "scale": {"domain": ["美国","澳大利亚","日本","英国","中国"], "range": ["#990000","#b8b8b8","#cc0000","#ed7d31","#a5a5a5"]},
        "legend": {"title": null, "orient": "none", "legendX": 2, "legendY": 206, "direction": "horizontal", "columnPadding": 17, "labelOffset": 4, "symbolType": "stroke", "symbolSize": 600, "symbolStrokeWidth": 3.5, "labelFontSize": 11.5, "labelColor": "#595959", "labelFont": "Noto Sans CJK SC"}}
    },
    "layer": [
      {"transform": [{"filter": "datum.c === '美国'"}], "mark": {"type": "line", "strokeWidth": 4, "strokeJoin": "round"}},
      {"transform": [{"filter": "datum.c === '澳大利亚'"}], "mark": {"type": "line", "strokeWidth": 4, "strokeJoin": "round"}},
      {"transform": [{"filter": "datum.c === '日本'"}], "mark": {"type": "line", "strokeWidth": 4, "strokeJoin": "round"}},
      {"transform": [{"filter": "datum.c === '中国'"}], "mark": {"type": "line", "strokeWidth": 3, "strokeJoin": "round"}},
      {"transform": [{"filter": "datum.c === '英国'"}], "mark": {"type": "line", "strokeWidth": 3, "strokeJoin": "round"}}
    ]
  },
  {
    "data": {"values": [{}]},
    "mark": {"type": "rule", "color": "#000000", "strokeWidth": 2.2},
    "encoding": {"x": {"datum": 1984.39, "type": "quantitative", "axis": null, "scale": {"domain": [1989, 2019.1], "nice": false, "zero": false}}, "x2": {"datum": 2021.98}, "y": {"datum": 15.57, "type": "quantitative", "axis": null, "scale": {"domain": [-2, 12], "nice": false, "zero": false}}}
  },
  {
    "data": {"values": [{}]},
    "mark": {"type": "rule", "color": "#000000", "strokeWidth": 2.2},
    "encoding": {"x": {"datum": 1984.39, "type": "quantitative", "axis": null, "scale": {"domain": [1989, 2019.1], "nice": false, "zero": false}}, "x2": {"datum": 2021.98}, "y": {"datum": 13.25, "type": "quantitative", "axis": null, "scale": {"domain": [-2, 12], "nice": false, "zero": false}}}
  },
  {
    "data": {"values": [{}]},
    "mark": {"type": "rule", "color": "#000000", "strokeWidth": 2.2},
    "encoding": {"x": {"datum": 1984.39, "type": "quantitative", "axis": null, "scale": {"domain": [1989, 2019.1], "nice": false, "zero": false}}, "x2": {"datum": 2021.98}, "y": {"datum": -5.57, "type": "quantitative", "axis": null, "scale": {"domain": [-2, 12], "nice": false, "zero": false}}}
  },
  {
    "data": {"values": [{}]},
    "mark": {"type": "text", "text": "图表 4：全球主要国家十年期国债到期收益率", "align": "left", "baseline": "middle", "fontSize": 13, "fontWeight": "bold", "color": "#000000", "font": "Noto Sans CJK SC"},
    "encoding": {"x": {"datum": 1985.22, "type": "quantitative", "axis": null, "scale": {"domain": [1989, 2019.1], "nice": false, "zero": false}}, "y": {"datum": 14.79, "type": "quantitative", "axis": null, "scale": {"domain": [-2, 12], "nice": false, "zero": false}}}
  },
  {
    "data": {"values": [{}]},
    "mark": {"type": "text", "text": "资料来源：Wind、万联证券研究所整理", "align": "left", "baseline": "middle", "fontSize": 13, "fontStyle": "italic", "color": "#000000", "font": "Noto Sans CJK SC"},
    "encoding": {"x": {"datum": 1985.22, "type": "quantitative", "axis": null, "scale": {"domain": [1989, 2019.1], "nice": false, "zero": false}}, "y": {"datum": -7.21, "type": "quantitative", "axis": null, "scale": {"domain": [-2, 12], "nice": false, "zero": false}}}
  }
]
}
